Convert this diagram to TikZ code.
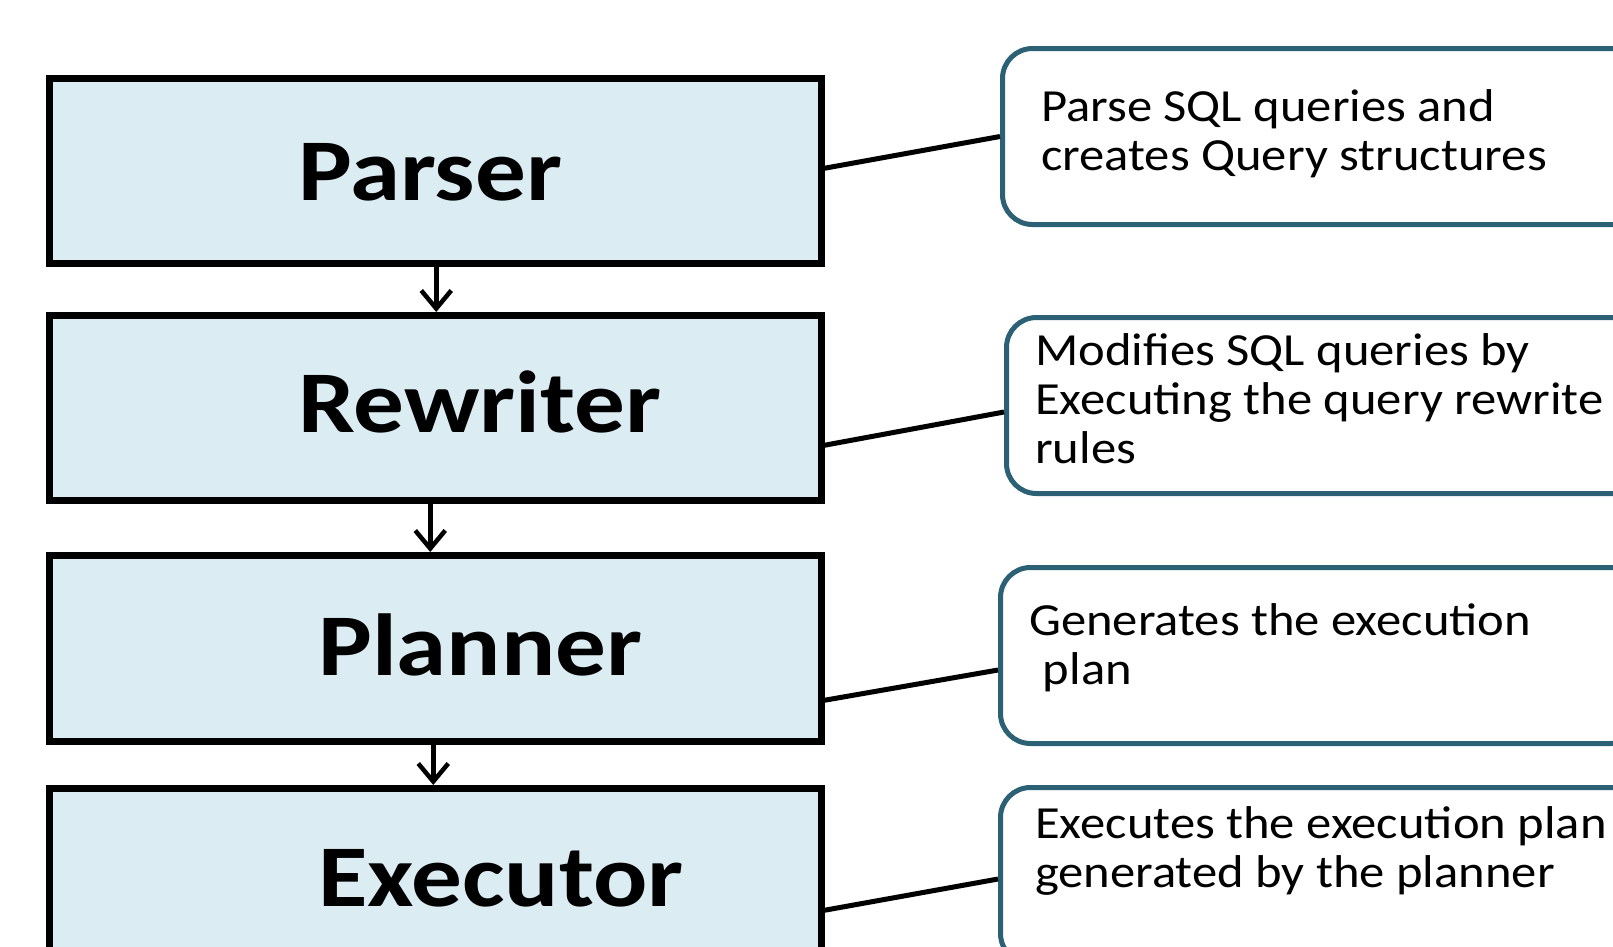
\documentclass[tikz,border=0pt]{standalone}
\usepackage{fontspec}
\usepackage{graphicx}
\setmainfont{Carlito}
\usetikzlibrary{arrows.meta}
\definecolor{stagefill}{RGB}{219,237,243}
\definecolor{noteline}{RGB}{44,96,116}

% wide-set text helpers
\newcommand{\stagetext}[1]{\scalebox{1.15}[1]{\fontsize{88}{100}\selectfont\bfseries #1}}
\newcommand{\notetext}[1]{\scalebox{1.1}[1]{\fontsize{46}{49}\selectfont
  \begin{tabular}[t]{@{}l@{}}#1\end{tabular}}}

\begin{document}
\begin{tikzpicture}[x=1pt,y=-1pt,
  stage/.style={draw=black, line width=6.5pt, fill=stagefill, rectangle,
    inner sep=0pt, minimum width=772pt, minimum height=185pt, anchor=north west},
  note/.style={draw=noteline, line width=5pt, fill=white, rectangle,
    rounded corners=30pt, inner sep=0pt, minimum width=640pt,
    minimum height=176pt, anchor=north west},
  label/.style={inner sep=0pt, anchor=base west},
  flow/.style={line width=4.5pt, -{Straight Barb[length=18pt,width=30pt,line width=4.5pt]}},
  link/.style={line width=5pt, draw=black}]

\useasboundingbox (0,0) rectangle (1613,946);
\clip (0,0) rectangle (1613,946);

% processing stages
\node[stage] (parser)   at (46,75)  {};
\node[stage] (rewriter) at (46,312) {};
\node[stage, minimum height=186pt] (planner)  at (46,552) {};
\node[stage] (executor) at (46,785) {};

\node[label] (tparser)   at (298,200) {\stagetext{Parser}};
\node[label] (trewriter) at (298,432) {\stagetext{Rewriter}};
\node[label] (tplanner)  at (318,675) {\stagetext{Planner}};
\node[label] (texecutor) at (318,906) {\stagetext{Executor}};

% flow between stages
\draw[flow] ([xshift=1pt]parser.south)   -- ([xshift=1pt]parser.south |- rewriter.north);
\draw[flow] ([xshift=-5pt]rewriter.south) -- ([xshift=-5pt]rewriter.south |- planner.north);
\draw[flow] ([xshift=-2pt]planner.south)  -- ([xshift=-2pt]planner.south |- executor.north);

% descriptions
\node[note] (nparser)   at (1000,46)  {};
\node[note] (nrewriter) at (1004,315) {};
\node[note] (nplanner)  at (998,565)  {};
\node[note] (nexecutor) at (998,785)  {};

\node[label] (dparser)   at (1041,121) {\notetext{Parse SQL queries and\\creates Query structures}};
\node[label] (drewriter) at (1035,365) {\notetext{Modifies SQL queries by\\Executing the query rewrite\\rules}};
\node[label] (dplanner)  at (1029,635) {\notetext{Generates the execution\\\hspace{0.27em}plan}};
\node[label] (dexecutor) at (1035,838) {\notetext{Executes the execution plan\\generated by the planner}};

% connectors from stages to descriptions
\draw[link] ([yshift=2.5pt]parser.east)    -- (nparser.west);
\draw[link] ([yshift=-37.5pt]rewriter.east) -- ([yshift=-6.5pt]nrewriter.west);
\draw[link] ([yshift=-52pt]planner.east)    -- ([yshift=-14.5pt]nplanner.west);
\draw[link] ([yshift=-29.5pt]executor.east) -- ([yshift=-3.5pt]nexecutor.west);
\end{tikzpicture}
\end{document}
